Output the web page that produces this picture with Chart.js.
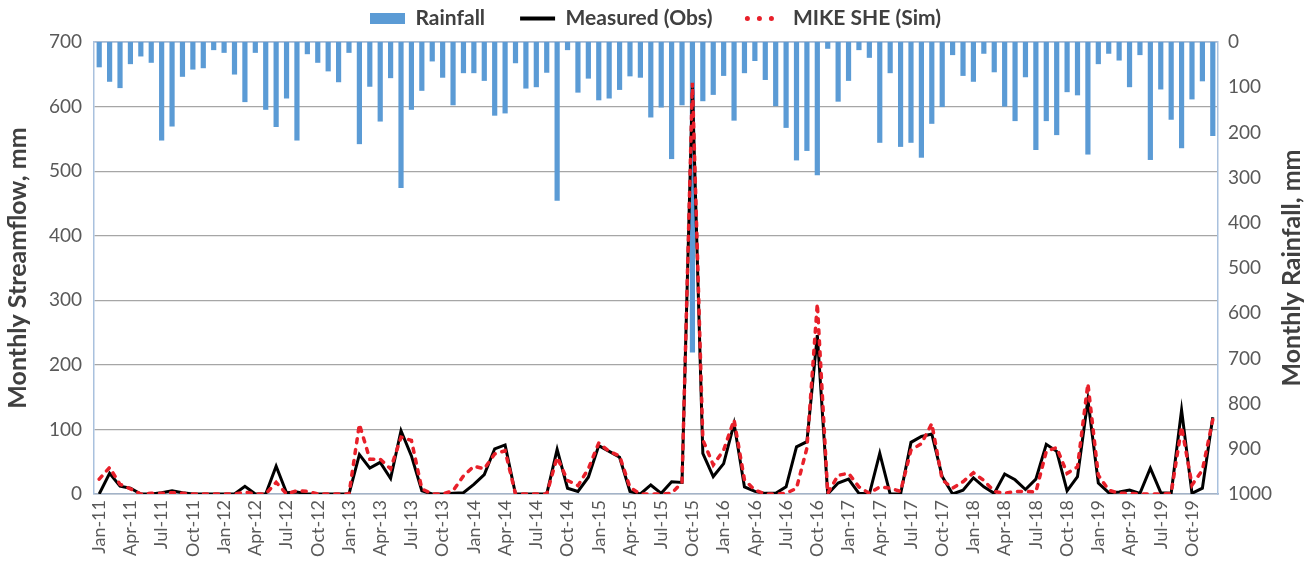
<!DOCTYPE html>
<html>
<head>
<meta charset="utf-8">
<script src="https://cdn.jsdelivr.net/npm/chart.js@4"></script>
<style>
  html, body { margin: 0; padding: 0; background: #fff; }
  #wrap { width: 1311px; height: 562px; }
</style>
</head>
<body>
<div id="wrap"><canvas id="myChart" width="1311" height="562"></canvas></div>
<script>
const months = ['Jan', 'Feb', 'Mar', 'Apr', 'May', 'Jun', 'Jul', 'Aug', 'Sep', 'Oct', 'Nov', 'Dec'];
const years = ['11', '12', '13', '14', '15', '16', '17', '18', '19'];

// monthly rainfall, mm (right axis, reversed)
const rainfall = [
    56, 88, 102, 49, 32, 46, 218, 187, 77, 61, 58, 18,
    24, 72, 133, 24, 150, 188, 125, 218, 27, 46, 65, 89,
    24, 226, 99, 176, 80, 323, 150, 108, 43, 79, 140, 69,
    69, 86, 163, 158, 47, 103, 100, 68, 351, 18, 112, 81,
    129, 125, 106, 76, 79, 167, 145, 259, 140, 687, 131, 117,
    75, 174, 69, 42, 84, 142, 190, 262, 241, 295, 15, 132,
    86, 18, 35, 223, 69, 232, 223, 256, 181, 144, 29, 75,
    88, 26, 67, 143, 175, 78, 239, 175, 206, 111, 118, 249,
    49, 26, 41, 100, 29, 261, 105, 172, 235, 127, 87, 208
];

// measured streamflow, mm
const measured = [
    0, 32, 12, 9, 0, 0, 2, 5, 2, 0, 0, 0,
    0, 0, 12, 0, 0, 43, 2, 3, 0, 0, 0, 0,
    0, 61, 40, 49, 24, 98, 59, 5, 0, 0, 1, 2,
    15, 30, 70, 76, 0, 0, 0, 0, 69, 9, 4, 26,
    75, 66, 57, 4, 0, 14, 1, 19, 18, 630, 63, 27,
    47, 109, 11, 4, 1, 1, 11, 73, 81, 246, 0, 17,
    23, 1, 0, 63, 0, 0, 80, 89, 93, 27, 0, 6,
    25, 11, 1, 31, 22, 7, 23, 77, 66, 5, 27, 146,
    17, 2, 3, 6, 1, 40, 2, 1, 130, 1, 9, 119
];

// MIKE SHE simulated streamflow, mm
const simulated = [
    23, 41, 15, 8, 0, 1, 1, 2, 1, 0, 0, 0,
    0, 0, 3, 0, 0, 18, 0, 5, 4, 0, 0, 0,
    0, 108, 54, 54, 39, 88, 83, 8, 0, 0, 5, 28,
    43, 39, 62, 67, 0, 0, 0, 0, 57, 21, 13, 39,
    79, 66, 59, 10, 0, 0, 0, 1, 18, 637, 84, 45,
    68, 115, 22, 6, 0, 0, 1, 9, 71, 295, 1, 29,
    32, 11, 1, 11, 9, 4, 68, 78, 109, 22, 9, 19,
    33, 21, 4, 1, 4, 4, 3, 66, 72, 32, 42, 171,
    29, 6, 1, 1, 0, 0, 0, 1, 104, 14, 37, 115
];

const labels = [];
years.forEach(y => months.forEach(m => labels.push(m + '-' + y)));

const FONT = 'Lato, "Open Sans", sans-serif';
const tickColor = '#595959';
const titleColor = '#404040';
const axisBlue = '#a9c1de';
const rightTitle = 'Monthly Rainfall, mm';

// top border line + right title (reads bottom to top like the left one)
const extras = {
    id: 'extras',
    beforeLayout(chart) {
        const lg = chart.legend;
        if (lg && !lg._patched) {
            const fit = lg.fit;
            lg.fit = function () { fit.call(this); this.height += 3; };
            lg._patched = true;
        }
    },
    beforeDatasetsDraw(chart) {
        const {ctx, chartArea} = chart;
        ctx.save();
        ctx.strokeStyle = axisBlue;
        ctx.lineWidth = 1.5;
        ctx.beginPath();
        ctx.moveTo(chartArea.left, chartArea.top);
        ctx.lineTo(chartArea.right, chartArea.top);
        ctx.stroke();
        ctx.restore();
    },
    afterDraw(chart) {
        const {ctx, chartArea} = chart;
        ctx.save();
        ctx.translate(chart.scales.y2.right - 19, (chartArea.top + chartArea.bottom) / 2);
        ctx.rotate(-Math.PI / 2);
        ctx.textAlign = 'center';
        ctx.textBaseline = 'middle';
        ctx.font = 'bold 25px ' + FONT;
        ctx.fillStyle = titleColor;
        ctx.fillText(rightTitle, 0, 0);
        ctx.restore();
    }
};

const data = {
    labels: labels,
    datasets: [{
        type: 'bar',
        label: 'Rainfall',
        data: rainfall,
        yAxisID: 'y2',
        backgroundColor: '#5b9bd5',
        barPercentage: 0.5,
        categoryPercentage: 1.0,
        order: 3
    }, {
        type: 'line',
        label: 'Measured (Obs)',
        data: measured,
        yAxisID: 'y',
        borderColor: '#000000',
        backgroundColor: '#000000',
        borderWidth: 3,
        pointRadius: 0,
        tension: 0,
        order: 2
    }, {
        type: 'line',
        label: 'MIKE SHE (Sim)',
        data: simulated,
        yAxisID: 'y',
        borderColor: '#e8202a',
        backgroundColor: '#e8202a',
        borderWidth: 3.5,
        borderDash: [4, 7],
        borderCapStyle: 'round',
        pointRadius: 0,
        tension: 0,
        order: 1
    }]
};

const config = {
    type: 'bar',
    data: data,
    plugins: [extras],
    options: {
        responsive: false,
        animation: false,
        layout: { padding: { top: -27, left: 0, right: 0, bottom: 0 } },
        plugins: {
            tooltip: { enabled: false },
            legend: {
                position: 'top',
                labels: {
                    usePointStyle: true,
                    pointStyleWidth: 35,
                    boxHeight: 11,
                    padding: 35,
                    color: titleColor,
                    font: { family: FONT, size: 21, weight: 'bold' },
                    generateLabels: chart => chart.data.datasets.map((ds, i) => ({
                        text: ds.label,
                        fillStyle: ds.backgroundColor,
                        strokeStyle: ds.borderColor || ds.backgroundColor,
                        lineWidth: ds.type === 'line' ? (ds.borderDash ? 5 : 4) : 0,
                        lineDash: ds.borderDash ? [0.01, 12] : [],
                        lineCap: ds.borderDash ? 'round' : 'butt',
                        pointStyle: ds.type === 'line' ? 'line' : 'rect',
                        fontColor: titleColor,
                        hidden: false,
                        datasetIndex: i
                    }))
                }
            }
        },
        scales: {
            x: {
                offset: true,
                grid: { display: false, drawTicks: false },
                border: { color: '#a3b3c8', width: 1.5 },
                ticks: {
                    autoSkip: false,
                    maxRotation: 90,
                    minRotation: 90,
                    padding: 6,
                    color: tickColor,
                    font: { family: FONT, size: 18 },
                    callback: (v, i) => (i % 3 === 0 ? labels[i] : '')
                },
                afterFit: s => { s.height = 68; }
            },
            y: {
                position: 'left',
                min: 0,
                max: 700,
                grid: { color: '#a6a6a6', lineWidth: 1.2, drawTicks: false },
                border: { color: axisBlue, width: 1.5 },
                ticks: {
                    stepSize: 100,
                    padding: 12,
                    color: tickColor,
                    font: { family: FONT, size: 19 },
                    callback: v => String(v)
                },
                title: {
                    display: true,
                    text: 'Monthly Streamflow, mm',
                    color: titleColor,
                    font: { family: FONT, size: 25, weight: 'bold' },
                    padding: { top: 3, bottom: 3 }
                },
                afterFit: s => { s.width = 94; }
            },
            y2: {
                position: 'right',
                reverse: true,
                min: 0,
                max: 1000,
                grid: { display: false, drawTicks: false },
                border: { color: axisBlue, width: 1.5 },
                ticks: {
                    stepSize: 100,
                    padding: 10,
                    color: tickColor,
                    font: { family: FONT, size: 19 },
                    callback: v => String(v)
                },
                title: { display: false },
                afterFit: s => { s.width = 93; }
            }
        }
    }
};

const myChart = new Chart(document.getElementById('myChart'), config);
</script>
</body>
</html>
